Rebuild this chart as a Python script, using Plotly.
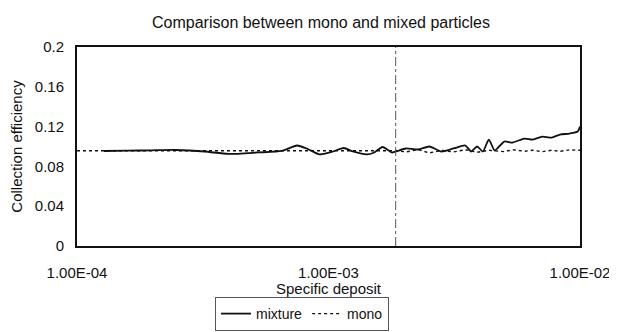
import plotly.graph_objects as go

# Mixture series (specific deposit, collection efficiency)
mix_x = [1.28e-4, 1.59e-4, 1.98e-4, 2.46e-4, 3.22e-4, 4.0e-4, 5.25e-4, 6.52e-4, 7.5e-4, 8.27e-4,
         9.22e-4, 1.03e-3, 1.15e-3, 1.25e-3, 1.42e-3, 1.52e-3, 1.64e-3, 1.79e-3, 1.88e-3, 2.03e-3,
         2.27e-3, 2.52e-3, 2.81e-3, 3.14e-3, 3.50e-3, 3.69e-3, 3.90e-3, 4.11e-3, 4.34e-3, 4.58e-3,
         5.0e-3, 5.40e-3, 6.01e-3, 6.49e-3, 7.07e-3, 7.71e-3, 8.32e-3, 9.08e-3, 9.79e-3, 1.0e-2]
mix_y = [0.0955, 0.0958, 0.0962, 0.0965, 0.0950, 0.0925, 0.0940, 0.0955, 0.1010, 0.0975,
         0.0920, 0.0945, 0.0985, 0.0950, 0.0920, 0.0940, 0.0995, 0.0940, 0.0955, 0.0980,
         0.0970, 0.1000, 0.0950, 0.0980, 0.1010, 0.0950, 0.1000, 0.0950, 0.1070, 0.0960,
         0.1050, 0.1040, 0.1080, 0.1070, 0.1100, 0.1090, 0.1120, 0.1130, 0.1150, 0.1200]

# Mono series
mono_x = [1.0e-4, 2.0e-4, 4.0e-4, 8.0e-4, 1.2e-3, 1.88e-3, 2.03e-3, 2.27e-3, 2.52e-3, 2.81e-3,
          3.14e-3, 3.5e-3, 3.9e-3, 4.34e-3, 5.0e-3, 5.4e-3, 6.01e-3, 6.49e-3, 7.07e-3, 7.71e-3,
          8.32e-3, 9.08e-3, 1.0e-2]
mono_y = [0.0958, 0.0959, 0.0958, 0.0959, 0.0958, 0.0958, 0.0945, 0.0968, 0.0935, 0.0962,
          0.0945, 0.0968, 0.0942, 0.0962, 0.0948, 0.0968, 0.0952, 0.0962, 0.0948, 0.0962,
          0.0952, 0.0966, 0.0962]

x_tickvals = [1e-4, 1e-3, 1e-2]
x_ticktext = ["1.00E-04", "1.00E-03", "1.00E-02"]
y_tickvals = [0, 0.04, 0.08, 0.12, 0.16, 0.2]
y_ticktext = ["0", "0.04", "0.08", "0.12", "0.16", "0.2"]

fig = go.Figure()
fig.add_trace(go.Scatter(x=mix_x, y=mix_y, mode="lines", name="mixture",
                         line=dict(color="#111111", width=1.8, shape="spline", smoothing=0.6)))
fig.add_trace(go.Scatter(x=mono_x, y=mono_y, mode="lines", name="mono",
                         line=dict(color="#111111", width=1.4, dash="dot")))

font = "Liberation Sans, Arial, sans-serif"
W, H = 609, 324  # page body adds an 8px margin
fig.update_layout(
    width=W, height=H,
    margin=dict(l=69, r=37, t=39, b=86, autoexpand=False),
    paper_bgcolor="white", plot_bgcolor="white",
    font=dict(family=font, size=15, color="#111111"),
    title=dict(text="Comparison between mono and mixed particles", x=313 / W, xanchor="center",
               xref="container", y=1 - 14 / H, yanchor="middle", font=dict(size=16)),
    xaxis=dict(type="log", range=[-4, -2], tickvals=x_tickvals, ticktext=x_ticktext,
               showgrid=False, zeroline=False, showline=True, linecolor="#111111", linewidth=2,
               mirror=True, ticks="outside", ticklen=12, tickcolor="rgba(0,0,0,0)", automargin=True,
               title=dict(text="Specific deposit", standoff=14, font=dict(size=15))),
    yaxis=dict(range=[0, 0.2], tickvals=y_tickvals, ticktext=y_ticktext,
               showgrid=False, zeroline=False, showline=True, linecolor="#111111", linewidth=2,
               mirror=True, ticks="outside", ticklen=8, tickcolor="rgba(0,0,0,0)", automargin=True,
               title=dict(text="Collection efficiency", standoff=12, font=dict(size=15))),
    showlegend=True,
    legend=dict(orientation="h", x=207 / W, xanchor="left", xref="container",
                y=1 - 323 / H, yanchor="bottom", yref="container",
                bordercolor="#555555", borderwidth=1, font=dict(size=14),
                itemwidth=30, tracegroupgap=0),
    shapes=[dict(type="line", xref="x", yref="paper", x0=1.85e-3, x1=1.85e-3, y0=0, y1=1,
                 line=dict(color="#555555", width=1, dash="dashdot"))],
)

fig.write_html("out.html")
